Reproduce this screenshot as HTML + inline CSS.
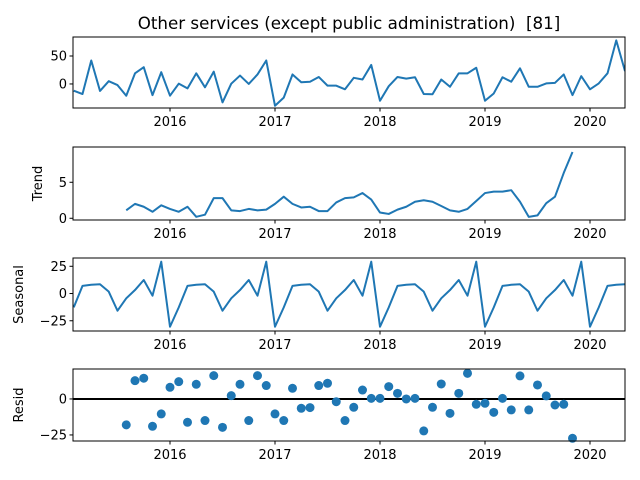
<!DOCTYPE html>
<html><head><meta charset="utf-8"><style>
body{margin:0;background:#fff}
svg{display:block;font-family:"DejaVu Sans","Liberation Sans",sans-serif}
</style></head><body>
<svg id="chart" width="640" height="480" viewBox="0 0 640 480" xmlns="http://www.w3.org/2000/svg">
<text x="349" y="29" font-size="16.7" text-anchor="middle" xml:space="preserve">Other services (except public administration)  [81]</text>
</svg>
<script>
const yearLabels = ["2016","2017","2018","2019","2020"];
const yearIdx = [11,23,35,47,59];
const observed = [-12,-18,42,-12.5,5,-2,-21,19,30,-20,21,-21,0.5,-8,19,-6,22,-33,0.5,15,0,17,42,-39,-24.5,17,3,4,12.5,-3,-3,-9.5,11,8,34,-30,-4,12.5,9.5,12,-18,-18.5,8,-5,19,19,29,-30,-17,12,4,28,-5,-5,1,2,17,-20,14,-9.5,1,19,78,23];
const trend = [null,null,null,null,null,null,1.1,2.0,1.6,0.9,1.8,1.3,0.9,1.6,0.2,0.5,2.8,2.8,1.1,1.0,1.3,1.1,1.2,2.0,3.0,2.0,1.5,1.6,1.0,1.0,2.2,2.8,2.9,3.5,2.6,0.8,0.6,1.2,1.6,2.3,2.5,2.3,1.7,1.1,0.9,1.3,2.4,3.5,3.7,3.7,3.9,2.3,0.2,0.4,2.1,3.0,6.3,9.2,null,null,null,null,null,null];
const seasonalCycle = [-12.7,7,8,8.5,1.7,-15.8,-4.4,3.2,12.4,-2,29.2,-30.5];
const resid = [null,null,null,null,null,null,-18,12.7,14.4,-19,-10.4,8.1,12,-16.2,10.2,-15,16.2,-19.7,2.3,10.2,-15,16.2,9.3,-10.4,-15,7.4,-6.5,-6,9.3,10.9,-1.9,-15,-5.8,6.2,0.4,0.4,8.6,3.9,0,0.4,-22.2,-5.8,10.4,-10,3.9,17.8,-3.7,-3,-9.3,0.4,-7.6,16,-7.6,9.7,2.1,-4.2,-3.7,-27.3,null,null,null,null,null,null];

const NS="http://www.w3.org/2000/svg";
const svg=document.getElementById('chart');
const L=73,R=625;
const xs=i=>73.75+i*8.75;
function mk(tag,attrs,parent){const e=document.createElementNS(NS,tag);for(const k in attrs)e.setAttribute(k,attrs[k]);(parent||svg).appendChild(e);return e;}
const panels=[
 {name:'observed',top:37,bot:108,ymin:-43,ymax:84,ticks:[50,0],label:''},
 {name:'trend',top:147,bot:220,ymin:-0.24,ymax:9.9,ticks:[5,0],label:'Trend',lx:42},
 {name:'seasonal',top:258,bot:331,ymin:-34.4,ymax:32.6,ticks:[25,0,-25],label:'Seasonal',lx:23},
 {name:'resid',top:369,bot:441,ymin:-29.2,ymax:20.8,ticks:[0,-25],label:'Resid',lx:23}
];
const seasonal=observed.map((_,i)=>seasonalCycle[i%12]);
const series=[observed,trend,seasonal,resid];
panels.forEach((p,pi)=>{
 const g=mk('g',{});
 
 
 const ys=v=>p.bot-(v-p.ymin)/(p.ymax-p.ymin)*(p.bot-p.top);
 const clipId='clip'+pi;
 const cp=mk('clipPath',{id:clipId},g);mk('rect',{x:L,y:p.top,width:R-L,height:p.bot-p.top},cp);
 const data=series[pi];
 if(pi===3){
  const zl=mk('line',{x1:L,x2:R,y1:ys(0),y2:ys(0),stroke:'#000','stroke-width':2},g);
  
  
  data.forEach((v,i)=>{if(v===null)return;
   const c=mk('circle',{cx:xs(i),cy:ys(v),r:4.5,fill:'#1f77b4'},g);
   
   });
 } else {
  let d='',pen=false;
  data.forEach((v,i)=>{if(v===null){pen=false;return;}d+=(pen?'L':'M')+xs(i).toFixed(2)+','+ys(v).toFixed(2);pen=true;});
  const pl=mk('path',{d:d,fill:'none',stroke:'#1f77b4','stroke-width':2,'stroke-linejoin':'round','clip-path':'url(#'+clipId+')'},g);
  
  
 }
 const fr=mk('rect',{x:L,y:p.top,width:R-L,height:p.bot-p.top,fill:'none',stroke:'#000','stroke-width':1},g);
 
 
 p.ticks.forEach(t=>{const y=ys(t);
  mk('line',{x1:L-3.5,x2:L,y1:y,y2:y,stroke:'#000'},g);
  const tx=mk('text',{x:L-6,y:y+4.5,'font-size':13,'text-anchor':'end'},g);
  tx.textContent=(t<0?'\u2212'+(-t):String(t));
  
  });
 yearIdx.forEach((yi,k)=>{const x=xs(yi);
  mk('line',{x1:x,x2:x,y1:p.bot,y2:p.bot+3.5,stroke:'#000'},g);
  const tx=mk('text',{x:x,y:p.bot+18,'font-size':13,'text-anchor':'middle'},g);
  tx.textContent=yearLabels[k];
  
  });
 if(p.label){const cy=(p.top+p.bot)/2;
  const lt=mk('text',{x:p.lx,y:cy,'font-size':13,'text-anchor':'middle',transform:'rotate(-90 '+p.lx+' '+cy+')'},g);
  lt.textContent=p.label;
  
  }
});
</script>
</body></html>
